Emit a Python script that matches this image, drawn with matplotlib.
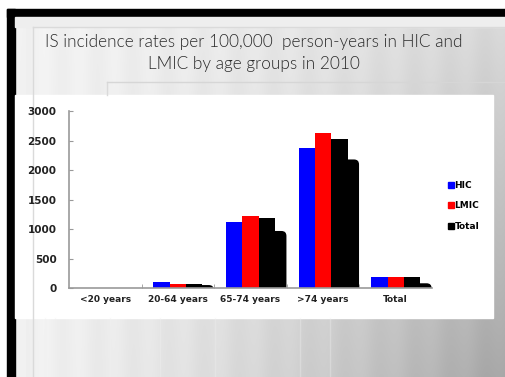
import numpy as np
import matplotlib.pyplot as plt
from matplotlib.patches import Rectangle, FancyBboxPatch
from matplotlib.lines import Line2D

# IS incidence per 100,000 person-years, 2010
AGE_GROUPS = ["<20 years", "20-64 years", "65-74 years", ">74 years", "Total"]
HIC = [8, 100, 1127, 2380, 196]
LMIC = [7, 70, 1228, 2622, 196]
TOTAL = [7, 75, 1184, 2526, 196]
SHADOW = [4, 55, 970, 2180, 85]   # drop-shadow height behind the Total bars

TITLE_1 = "IS incidence rates per 100,000  person-years in HIC and"
TITLE_2 = "LMIC by age groups in 2010"

W, H = 505, 377
TICK_FONT = ['Liberation Sans Narrow', 'DejaVu Sans']
TITLE_FONT = ['Lato', 'DejaVu Sans']

fig = plt.figure(figsize=(W / 100, H / 100), dpi=100)

# slide background: grey gradient, darker towards the bottom right
bg = fig.add_axes([0, 0, 1, 1])
xx, yy = np.meshgrid(np.linspace(0, 1, W), np.linspace(0, 1, H))
shade = 0.95 - 0.30 * xx ** 1.5 * (0.3 + 0.7 * yy)
shade = shade + 0.01 * np.sin(xx * 90) * (xx > 0.05)
bg.imshow(np.dstack([shade] * 3).clip(0, 1), extent=(0, W, H, 0), aspect='auto')
bg.set_xlim(0, W)
bg.set_ylim(H, 0)
bg.axis('off')

# slide frame
bg.add_patch(Rectangle((0, 0), W, 9, color='white'))
bg.add_patch(Rectangle((0, 0), 7, H, color='white'))
bg.add_patch(Rectangle((7, 9), W, 8, color='black'))
bg.add_patch(Rectangle((7, 9), 8, H, color='black'))
bg.add_patch(Rectangle((15, 17), W, 10, color='#eeeeee'))
bg.plot([33, 33], [27, H], color='#dadada', lw=1)
bg.plot([33, W], [27, 27], color='#dadada', lw=1)
bg.plot([107, 107], [82, 95], color='#dadada', lw=1)
bg.plot([107, W], [82, 82], color='#d6d6d6', lw=1)
for sx in [45, 55, 110, 160, 215, 300, 330]:
    bg.plot([sx, sx], [318, H], color='#f0f0f0', lw=1, alpha=0.35)

# white chart card
bg.add_patch(Rectangle((15, 95), 478, 223, color='white'))

bg.text(254, 42, TITLE_1, ha='center', va='center', fontsize=12.4,
        color='#2a2a2a', family=TITLE_FONT, weight=300, zorder=10)
bg.text(254, 64, TITLE_2, ha='center', va='center', fontsize=12.4,
        color='#2a2a2a', family=TITLE_FONT, weight=300, zorder=10)

ax = fig.add_axes([69 / W, 1 - 288.3 / H, (432 - 69) / W, (288.3 - 111) / H])
ax.set_facecolor('none')
x = np.arange(len(AGE_GROUPS))
bw = 0.225

# shadow shapes with a rounded top, sitting behind the Total bars
r = 5 / 72.6
aspect = (3000 / 177.3) * 72.6
for xi, s in zip(x, SHADOW):
    ax.add_patch(FancyBboxPatch((xi + bw, -400), 0.27, s + 400,
                                boxstyle=f"round,pad=0,rounding_size={r}",
                                mutation_aspect=aspect, fc='black', ec='none', zorder=1))

ax.bar(x - bw, HIC, bw, color='#0000ff', label='HIC', zorder=2)
ax.bar(x, LMIC, bw, color='#ff0000', label='LMIC', zorder=2)
ax.bar(x + bw, TOTAL, bw, color='black', label='Total', zorder=2)

ax.set_xlim(-0.5, len(AGE_GROUPS) - 0.5)
ax.set_ylim(0, 3000)
ax.set_yticks(range(0, 3001, 500))
ax.set_xticks(x)
ax.set_xticklabels(AGE_GROUPS)
ax.set_xticks(x[:-1] + 0.5, minor=True)

for side in ['top', 'right']:
    ax.spines[side].set_visible(False)
for side in ['left', 'bottom']:
    ax.spines[side].set_color('#999999')
    ax.spines[side].set_linewidth(1.2)

ax.tick_params(axis='y', direction='in', length=3, color='#999999', pad=9,
               labelsize=7.5, labelcolor='#222222')
ax.tick_params(axis='x', which='major', length=0, pad=5, labelsize=6.5, labelcolor='#222222')
ax.tick_params(axis='x', which='minor', direction='in', length=3, color='#999999')
for lbl in ax.get_xticklabels() + ax.get_yticklabels():
    lbl.set_family(TICK_FONT)
    lbl.set_weight('bold')

handles = [Line2D([], [], marker='s', ls='none', markersize=4.5, color=c)
           for c in ['#0000ff', '#ff0000', 'black']]
leg = fig.legend(handles, ['HIC', 'LMIC', 'Total'], loc='center left',
                 bbox_to_anchor=(440 / W, 1 - 206 / H), frameon=False,
                 handlelength=0.6, handletextpad=0.1, labelspacing=1.25,
                 prop={'family': TICK_FONT, 'weight': 'bold', 'size': 6.5})

fig.savefig('out.png', dpi=100)
